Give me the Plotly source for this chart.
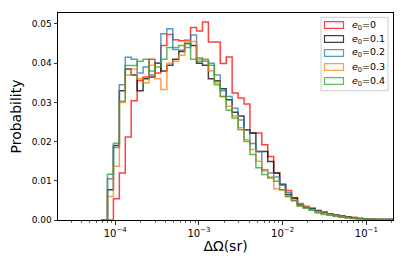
import numpy as np
import plotly.graph_objects as go

# ---------------- data ----------------
series_labels = ["<i>e</i><sub>0</sub>=0", "<i>e</i><sub>0</sub>=0.1", "<i>e</i><sub>0</sub>=0.2",
                 "<i>e</i><sub>0</sub>=0.3", "<i>e</i><sub>0</sub>=0.4"]

# common log-spaced bins: first edge (log10) and width (dex)
log_bin_start = -4.163
log_bin_width = 0.0709

prob_e0_0 = [0, 0, 0.0054, 0.0120, 0.0212, 0.0304, 0.0356, 0.0365, 0.0410, 0.0375, 0.0445, 0.0473,
             0.0460, 0.0457, 0.0457, 0.0491, 0.0482, 0.0505, 0.0454, 0.0454, 0.0399, 0.0416, 0.0324,
             0.0311, 0.0296, 0.0222, 0.0222, 0.0192, 0.0162, 0.0120, 0.0092, 0.0075, 0.0056, 0.0039,
             0.0032, 0.0028, 0.0022, 0.0020, 0.0016, 0.0013, 0.0011, 0.0008, 0.0007, 0.0004, 0.0003,
             0.0002, 0.0001, 0.0001, 0.0001]
prob_e0_01 = [0, 0.0077, 0.0190, 0.0330, 0.0385, 0.0370, 0.0330, 0.0360, 0.0365, 0.0400, 0.0380,
              0.0395, 0.0410, 0.0430, 0.0450, 0.0445, 0.0400, 0.0395, 0.0360, 0.0355, 0.0335, 0.0307,
              0.0275, 0.0265, 0.0230, 0.0222, 0.0175, 0.0175, 0.0149, 0.0120, 0.0090, 0.0065, 0.0056,
              0.0039, 0.0033, 0.0030, 0.0024, 0.0020, 0.0016, 0.0012, 0.0009, 0.0007, 0.0005, 0.0004,
              0.0003, 0.0002, 0.0001, 0.0001, 0.0001]
prob_e0_02 = [0, 0.0105, 0.0185, 0.0345, 0.0415, 0.0410, 0.0375, 0.0390, 0.0370, 0.0400, 0.0475,
              0.0488, 0.0435, 0.0433, 0.0440, 0.0472, 0.0413, 0.0405, 0.0400, 0.0370, 0.0330, 0.0315,
              0.0285, 0.0255, 0.0230, 0.0195, 0.0175, 0.0128, 0.0120, 0.0110, 0.0090, 0.0070, 0.0050,
              0.0042, 0.0035, 0.0028, 0.0022, 0.0018, 0.0014, 0.0012, 0.0009, 0.0007, 0.0005, 0.0004,
              0.0003, 0.0002, 0.0002, 0.0001, 0.0001]
prob_e0_03 = [0, 0.0060, 0.0137, 0.0300, 0.0370, 0.0385, 0.0360, 0.0350, 0.0395, 0.0360, 0.0333,
              0.0400, 0.0405, 0.0420, 0.0460, 0.0455, 0.0410, 0.0405, 0.0380, 0.0350, 0.0315, 0.0290,
              0.0265, 0.0235, 0.0205, 0.0180, 0.0150, 0.0125, 0.0110, 0.0080, 0.0077, 0.0060, 0.0050,
              0.0038, 0.0033, 0.0026, 0.0022, 0.0017, 0.0015, 0.0011, 0.0008, 0.0006, 0.0005, 0.0004,
              0.0002, 0.0002, 0.0001, 0.0001, 0.0001]
prob_e0_04 = [0, 0.0117, 0.0196, 0.0303, 0.0394, 0.0394, 0.0405, 0.0410, 0.0380, 0.0390, 0.0410,
              0.0440, 0.0440, 0.0445, 0.0450, 0.0410, 0.0405, 0.0410, 0.0395, 0.0345, 0.0315, 0.0280,
              0.0260, 0.0230, 0.0200, 0.0167, 0.0133, 0.0116, 0.0107, 0.0099, 0.0077, 0.0060, 0.0050,
              0.0035, 0.0030, 0.0025, 0.0018, 0.0014, 0.0012, 0.0009, 0.0007, 0.0005, 0.0004, 0.0003,
              0.0002, 0.0002, 0.0001, 0.0001, 0.0001]

x_tick_values = [1e-4, 1e-3, 1e-2, 1e-1]
x_tick_labels = ["10<sup>\u22124</sup>", "10<sup>\u22123</sup>", "10<sup>\u22122</sup>", "10<sup>\u22121</sup>"]
y_tick_values = [0.0, 0.01, 0.02, 0.03, 0.04, 0.05]

# ---------------- styling ----------------
colors = ["#ff0000", "#000000", "#1f77b4", "#ff7f0e", "#2ca02c"]
all_series = [prob_e0_0, prob_e0_01, prob_e0_02, prob_e0_03, prob_e0_04]
FONT = "DejaVu Sans"
W, H = 407, 271
ML, MR, MT, MB = 58, 14, 13, 51

fig = go.Figure()
for vals, col in zip(all_series, colors):
    vals = np.asarray(vals, dtype=float)
    edges = 10 ** (log_bin_start + log_bin_width * np.arange(len(vals) + 1))
    xs = np.concatenate([[edges[0]], edges])
    ys = np.concatenate([[0.0], vals, [0.0]])
    fig.add_trace(go.Scatter(x=xs, y=ys, mode="lines",
                             line=dict(shape="hv", color=col, width=1.5),
                             opacity=0.75, showlegend=False, hoverinfo="skip"))

minor_vals = [m * 10.0 ** d for d in range(-5, 0) for m in range(2, 10)]

fig.update_layout(
    width=W, height=H,
    margin=dict(l=ML, r=MR, t=MT, b=MB, pad=0),
    paper_bgcolor="white", plot_bgcolor="white",
    font=dict(family=FONT, size=9, color="black"),
    xaxis=dict(type="log", range=[-4.683, -0.682], showline=True, linecolor="black",
               linewidth=1, mirror=True, ticks="outside", ticklen=3.5, tickwidth=0.8,
               tickcolor="black", tickvals=x_tick_values, ticktext=x_tick_labels,
               showgrid=False, zeroline=False,
               tickfont=dict(family=FONT, size=10),
               minor=dict(tickvals=minor_vals, ticks="outside", ticklen=2, tickwidth=0.6,
                          tickcolor="black", showgrid=False),
               title=dict(text="\u0394\u03a9(sr)", font=dict(family=FONT, size=14), standoff=3)),
    yaxis=dict(range=[0, 0.0528], showline=True, linecolor="black", linewidth=1, mirror=True,
               ticks="outside", ticklen=3.5, tickwidth=0.8, tickcolor="black",
               tickvals=y_tick_values, tickformat=".2f", showgrid=False, zeroline=False,
               tickfont=dict(family=FONT, size=9),
               title=dict(text="Probability", font=dict(family=FONT, size=14), standoff=6)),
)

# ---------------- legend drawn like matplotlib's patch legend ----------------
pw = W - ML - MR
ph = H - MT - MB


def px(x):
    return (x - ML) / pw


def py(y):
    return (H - MB - y) / ph


shapes = [dict(type="rect", xref="paper", yref="paper", x0=px(321), x1=px(388),
               y0=py(90.7), y1=py(17.3), line=dict(color="#cccccc", width=1),
               fillcolor="rgba(255,255,255,0.8)", layer="above")]
annotations = []
for i, (lab, col) in enumerate(zip(series_labels, colors)):
    cy = 25 + 14 * i
    shapes.append(dict(type="rect", xref="paper", yref="paper", x0=px(324.5), x1=px(343.5),
                       y0=py(cy + 3.4), y1=py(cy - 3.4), line=dict(color=col, width=1.2),
                       fillcolor="rgba(0,0,0,0)", opacity=0.75, layer="above"))
    annotations.append(dict(xref="paper", yref="paper", x=px(350), y=py(cy), text=lab,
                            showarrow=False, xanchor="left", yanchor="middle",
                            font=dict(family=FONT, size=9.5, color="black")))
fig.update_layout(shapes=shapes, annotations=annotations)

fig.write_html("out.html", config={"displayModeBar": False, "staticPlot": True},
               post_script="document.body.style.margin='0';document.body.style.overflow='hidden';")
